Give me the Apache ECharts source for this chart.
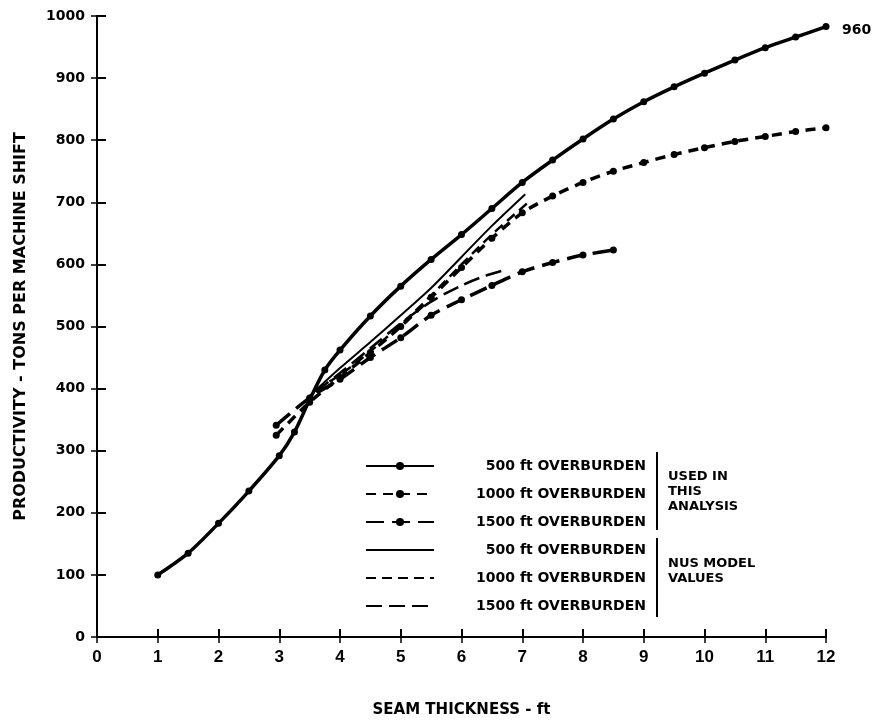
<!DOCTYPE html>
<html>
<head>
<meta charset="utf-8">
<script src="https://cdn.jsdelivr.net/npm/echarts@6/dist/echarts.min.js"></script>
<style>
html, body { margin: 0; padding: 0; background: #fff; }
#chart { width: 885px; height: 723px; }
</style>
</head>
<body>
<div id="chart"></div>
<script>
// axis ticks
var xTicks = [0, 1, 2, 3, 4, 5, 6, 7, 8, 9, 10, 11, 12];
var yTicks = [0, 100, 200, 300, 400, 500, 600, 700, 800, 900, 1000];

// used in this analysis
var used500X = [1, 1.5, 2, 2.5, 3, 3.25, 3.5, 3.75, 4, 4.5, 5, 5.5, 6, 6.5, 7, 7.5, 8, 8.5, 9, 9.5, 10, 10.5, 11, 11.5, 12];
var used500Y = [100, 135, 183, 235, 292, 330, 382, 430, 462, 517, 565, 608, 648, 690, 732, 768, 802, 834, 862, 886, 908, 929, 949, 966, 983];
var used1000X = [2.95, 3.5, 4, 4.5, 5, 5.5, 6, 6.5, 7, 7.5, 8, 8.5, 9, 9.5, 10, 10.5, 11, 11.5, 12];
var used1000Y = [325, 378, 418, 458, 500, 547, 595, 642, 683, 710, 732, 750, 764, 777, 788, 798, 806, 814, 820];
var used1500X = [2.95, 3.5, 4, 4.5, 5, 5.5, 6, 6.5, 7, 7.5, 8, 8.5];
var used1500Y = [341, 385, 415, 450, 482, 518, 543, 566, 588, 603, 615, 623];

// NUS model values
var nus500X = [3.5, 4, 4.5, 5, 5.5, 6, 6.5, 7.05];
var nus500Y = [388, 433, 475, 518, 562, 612, 662, 713];
var nus1000X = [3.6, 4, 4.5, 5, 5.5, 6, 6.5, 7.1];
var nus1000Y = [398, 422, 460, 503, 550, 600, 648, 700];
var nus1500X = [3.6, 4, 4.5, 5, 5.5, 6, 6.4, 6.75];
var nus1500Y = [395, 425, 465, 505, 540, 566, 582, 592];

var legendNames = {
  used500: '500 ft OVERBURDEN',
  used1000: '1000 ft OVERBURDEN',
  used1500: '1500 ft OVERBURDEN',
  nus500: '500 ft OVERBURDEN',
  nus1000: '1000 ft OVERBURDEN',
  nus1500: '1500 ft OVERBURDEN'
};
var endNote = '960';

var FONT = '"DejaVu Sans", "Liberation Sans", sans-serif';
var NARROW = '"Liberation Sans Narrow", "Liberation Sans", sans-serif';

function pairs(xs, ys) {
  var out = [];
  for (var i = 0; i < xs.length; i++) {
    out.push([xs[i], ys[i]]);
  }
  return out;
}

function curve(name, xs, ys, width, dash, dots) {
  return {
    name: name,
    type: 'line',
    smooth: 0.3,
    data: pairs(xs, ys),
    symbol: dots ? 'circle' : 'none',
    symbolSize: dots ? 7 : 0,
    showSymbol: !!dots,
    itemStyle: { color: '#000' },
    lineStyle: { color: '#000', width: width, type: dash },
    emphasis: { disabled: true },
    animation: false
  };
}

var chart = echarts.init(document.getElementById('chart'));

var used500 = curve('used500', used500X, used500Y, 3.5, 'solid', true);
used500.endLabel = {
  show: true,
  formatter: endNote,
  distance: 16,
  offset: [0, 4],
  color: '#000',
  fontFamily: FONT,
  fontWeight: 'bold',
  fontSize: 14
};

var option = {
  backgroundColor: '#fff',
  animation: false,
  grid: { left: 97, right: 59, top: 16, bottom: 84 },
  legend: {
    orient: 'vertical',
    left: 360,
    top: 454,
    itemWidth: 68,
    itemHeight: 10,
    itemGap: 14,
    selectedMode: false,
    data: [
      'used500', 'used1000', 'used1500',
      { name: 'nus500', itemStyle: { opacity: 0 } },
      { name: 'nus1000', itemStyle: { opacity: 0 } },
      { name: 'nus1500', itemStyle: { opacity: 0 } }
    ],
    formatter: function (name) {
      return '{t|' + legendNames[name] + '}';
    },
    textStyle: {
      rich: {
        t: {
          width: 207,
          height: 16,
          align: 'right',
          color: '#000',
          fontFamily: FONT,
          fontWeight: 'bold',
          fontSize: 14
        }
      }
    }
  },
  xAxis: [{
    type: 'value',
    min: 0, max: 12, interval: 1,
    name: 'SEAM THICKNESS - ft',
    nameLocation: 'middle',
    nameGap: 66,
    nameTextStyle: { color: '#000', fontFamily: FONT, fontWeight: 'bold', fontSize: 15 },
    axisLine: { lineStyle: { color: '#000', width: 2 } },
    axisTick: { inside: true, length: 8, lineStyle: { color: '#000', width: 2 } },
    axisLabel: {
      color: '#000', fontFamily: NARROW, fontWeight: 'bold', fontSize: 17, margin: 12,
      formatter: function (v) { return xTicks.indexOf(v) >= 0 ? String(v) : ''; }
    },
    splitLine: { show: false }
  }, {
    type: 'value',
    position: 'top',
    min: 0, max: 12, interval: 1,
    axisLine: { show: true, lineStyle: { color: '#000', width: 2 } },
    axisTick: { inside: true, length: 6, lineStyle: { color: '#000', width: 1.5 } },
    axisLabel: { show: false },
    splitLine: { show: false }
  }],
  yAxis: [{
    type: 'value',
    min: 0, max: 1000, interval: 100,
    name: 'PRODUCTIVITY - TONS PER MACHINE SHIFT',
    nameLocation: 'middle',
    nameGap: 68,
    nameTextStyle: { color: '#000', fontFamily: FONT, fontWeight: 'bold', fontSize: 16 },
    axisLine: { show: true, lineStyle: { color: '#000', width: 2 } },
    axisTick: { inside: true, length: 9, lineStyle: { color: '#000', width: 2 } },
    axisLabel: {
      color: '#000', fontFamily: FONT, fontWeight: 'bold', fontSize: 14, margin: 12,
      formatter: function (v) { return yTicks.indexOf(v) >= 0 ? String(v) : ''; }
    },
    splitLine: { show: false }
  }, {
    type: 'value',
    position: 'right',
    min: 0, max: 1000, interval: 100,
    axisLine: { show: true, lineStyle: { color: '#000', width: 2 } },
    axisTick: { inside: true, length: 6, lineStyle: { color: '#000', width: 1.5 } },
    axisLabel: { show: false },
    splitLine: { show: false }
  }],
  graphic: [
    // braces beside the legend
    { type: 'line', shape: { x1: 657, y1: 452, x2: 657, y2: 530 }, style: { stroke: '#000', lineWidth: 2 } },
    { type: 'line', shape: { x1: 657, y1: 538, x2: 657, y2: 617 }, style: { stroke: '#000', lineWidth: 2 } },
    {
      type: 'text', left: 668, top: 469,
      style: { text: 'USED IN\nTHIS\nANALYSIS', fill: '#000', font: 'bold 13px ' + FONT, lineHeight: 15 }
    },
    {
      type: 'text', left: 668, top: 556,
      style: { text: 'NUS MODEL\nVALUES', fill: '#000', font: 'bold 13px ' + FONT, lineHeight: 15 }
    }
  ],
  series: [
    used500,
    curve('used1000', used1000X, used1000Y, 3.5, [10, 7], true),
    curve('used1500', used1500X, used1500Y, 3.5, [18, 8], true),
    curve('nus500', nus500X, nus500Y, 2, 'solid', false),
    curve('nus1000', nus1000X, nus1000Y, 2.5, [10, 6], false),
    curve('nus1500', nus1500X, nus1500Y, 2.5, [16, 7], false)
  ]
};

chart.setOption(option);
</script>
</body>
</html>
